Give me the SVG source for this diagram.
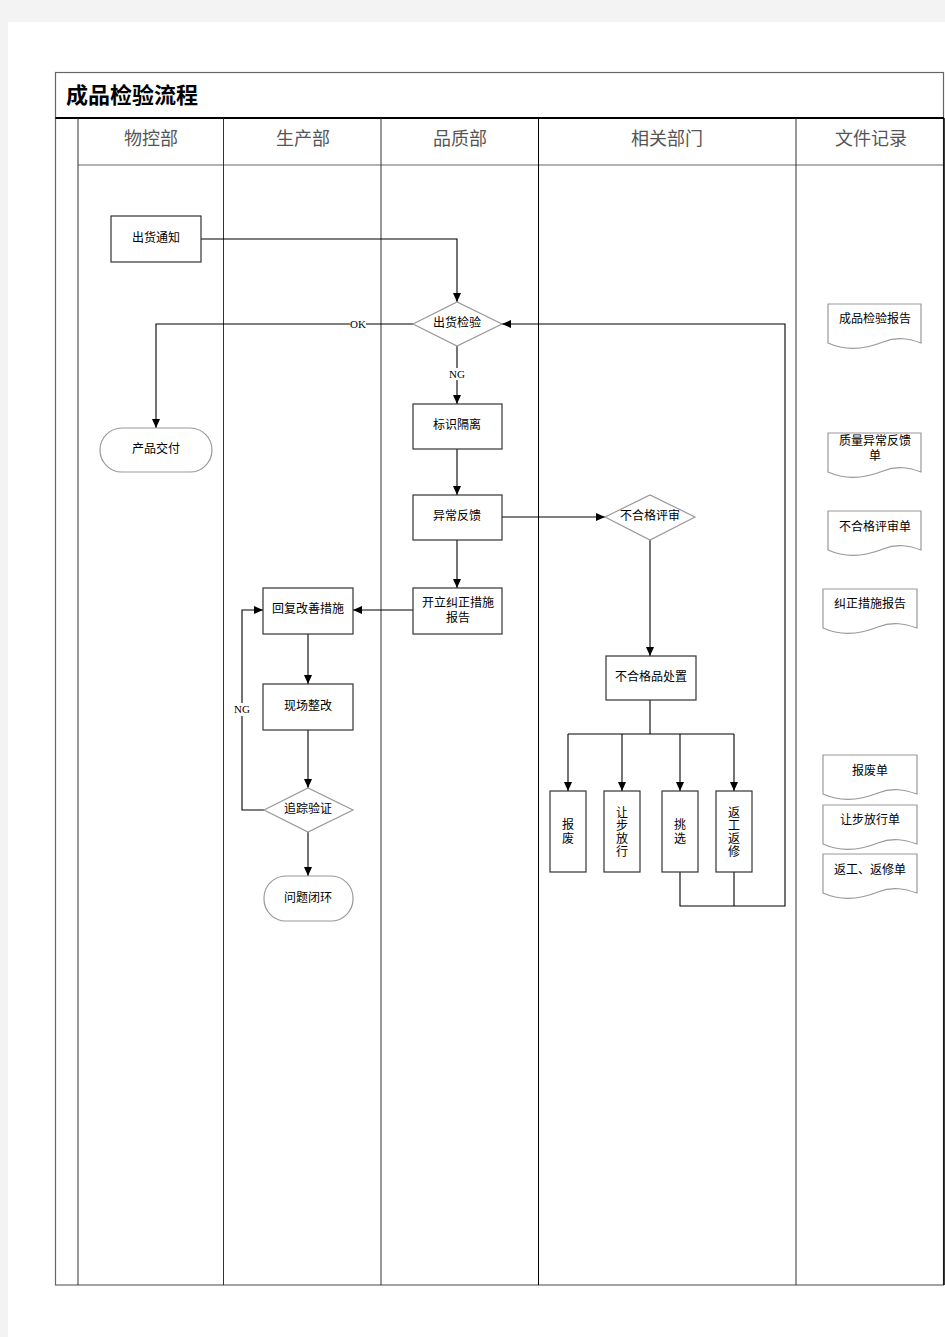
<svg xmlns="http://www.w3.org/2000/svg" width="945" height="1337" viewBox="0 0 945 1337">
<defs>
<marker id="arr" markerWidth="10" markerHeight="10" refX="9" refY="5" orient="auto" markerUnits="userSpaceOnUse">
<path d="M0,1 L9,5 L0,9 Z" fill="#000"/>
</marker>
<style>
.frame{fill:none;stroke:#000;stroke-width:1}
.box{fill:#fff;stroke:#333;stroke-width:1.2}
.dia{fill:#fff;stroke:#999;stroke-width:1.2}
.term{fill:#fff;stroke:#999;stroke-width:1.2}
.doc{fill:#fff;stroke:#999;stroke-width:1.2}
.lbl{font-family:"Liberation Sans","Noto Sans CJK SC",sans-serif;font-size:12px;fill:#000;text-anchor:middle;dominant-baseline:central}
.hdr{font-family:"Liberation Serif","Noto Sans CJK SC",serif;font-size:18px;fill:#555;text-anchor:middle;dominant-baseline:central}
.edge{fill:none;stroke:#000;stroke-width:1.1}
.el{font-family:"Liberation Serif",serif;font-size:11px;fill:#000;text-anchor:middle;dominant-baseline:central}
</style>
</defs>
<rect x="0" y="0" width="945" height="1337" fill="#f3f3f3"/>
<rect x="8" y="22" width="937" height="1315" fill="#fff"/>

<g id="frame">
<rect x="55.5" y="72.5" width="888" height="1212.5" fill="none" stroke="#666" stroke-width="1.2"/>
<line x1="55.5" y1="118" x2="944" y2="118" stroke="#000" stroke-width="2"/>
<line x1="78" y1="165" x2="944" y2="165" stroke="#666" stroke-width="1.2"/>
<line x1="78" y1="118" x2="78" y2="1285" stroke="#333" stroke-width="1"/>
<line x1="223.5" y1="118" x2="223.5" y2="1285" stroke="#333" stroke-width="1"/>
<line x1="381" y1="118" x2="381" y2="1285" stroke="#333" stroke-width="1"/>
<line x1="538.5" y1="118" x2="538.5" y2="1285" stroke="#000" stroke-width="1"/>
<line x1="796" y1="118" x2="796" y2="1285" stroke="#333" stroke-width="1"/>
<line x1="944" y1="118" x2="944" y2="1285" stroke="#000" stroke-width="1.5"/>
<text x="66" y="95" font-family="Liberation Serif,'Noto Sans CJK SC',serif" font-size="22" font-weight="bold" fill="#000" dominant-baseline="central">成品检验流程</text>
<text class="hdr" x="151" y="139">物控部</text>
<text class="hdr" x="303" y="139">生产部</text>
<text class="hdr" x="460" y="139">品质部</text>
<text class="hdr" x="667" y="139">相关部门</text>
<text class="hdr" x="871" y="139">文件记录</text>
</g>

<g id="connectors">
<path class="edge" d="M201,239 H457 V302" marker-end="url(#arr)"/>
<path class="edge" d="M413,324 H156 V428" marker-end="url(#arr)"/>
<path class="edge" d="M457,346 V404" marker-end="url(#arr)"/>
<path class="edge" d="M457,449 V495" marker-end="url(#arr)"/>
<path class="edge" d="M457,540 V588" marker-end="url(#arr)"/>
<path class="edge" d="M502,517 H605" marker-end="url(#arr)"/>
<path class="edge" d="M413,610 H353" marker-end="url(#arr)"/>
<path class="edge" d="M308,634 V684" marker-end="url(#arr)"/>
<path class="edge" d="M308,730 V788" marker-end="url(#arr)"/>
<path class="edge" d="M308,832 V876" marker-end="url(#arr)"/>
<path class="edge" d="M264,810 H242 V610 H263" marker-end="url(#arr)"/>
<path class="edge" d="M650,540 V656" marker-end="url(#arr)"/>
<path class="edge" d="M650,700 V734"/>
<path class="edge" d="M568,734 H734"/>
<path class="edge" d="M568,734 V791" marker-end="url(#arr)"/>
<path class="edge" d="M622,734 V791" marker-end="url(#arr)"/>
<path class="edge" d="M680,734 V791" marker-end="url(#arr)"/>
<path class="edge" d="M734,734 V791" marker-end="url(#arr)"/>
<path class="edge" d="M680,872 V906 H785 V324 H502" marker-end="url(#arr)"/>
<path class="edge" d="M734,872 V906"/>
<rect x="350" y="318" width="16" height="12" fill="#fff"/>
<text class="el" x="358" y="324">OK</text>
<rect x="449" y="368" width="16" height="12" fill="#fff"/>
<text class="el" x="457" y="374">NG</text>
<rect x="234" y="703" width="16" height="13" fill="#fff"/>
<text class="el" x="242" y="709">NG</text>
</g>

<g id="n-chuhuotongzhi"><rect class="box" x="111" y="216" width="90" height="46"/><text class="lbl" x="156" y="238">出货通知</text></g>
<g id="n-chuhuojianyan"><polygon class="dia" points="413,324 457,302 502,324 457,346"/><text class="lbl" x="457" y="323">出货检验</text></g>
<g id="n-chanpinjiaofu"><rect class="term" x="100" y="428" width="112" height="44" rx="22"/><text class="lbl" x="156" y="449">产品交付</text></g>
<g id="n-biaoshigeli"><rect class="box" x="413" y="404" width="89" height="45"/><text class="lbl" x="457" y="425">标识隔离</text></g>
<g id="n-yichangfankui"><rect class="box" x="413" y="495" width="89" height="45"/><text class="lbl" x="457" y="516">异常反馈</text></g>
<g id="n-kaili"><rect class="box" x="413" y="588" width="89" height="46"/><text class="lbl" x="458" y="603">开立纠正措施</text><text class="lbl" x="458" y="618">报告</text></g>
<g id="n-huifu"><rect class="box" x="263" y="588" width="90" height="46"/><text class="lbl" x="308" y="609">回复改善措施</text></g>
<g id="n-xianchang"><rect class="box" x="263" y="684" width="90" height="46"/><text class="lbl" x="308" y="706">现场整改</text></g>
<g id="n-zhuizong"><polygon class="dia" points="264,810 308,788 353,810 308,832"/><text class="lbl" x="308" y="809">追踪验证</text></g>
<g id="n-wenti"><rect class="term" x="264" y="876" width="89" height="45" rx="22"/><text class="lbl" x="308" y="898">问题闭环</text></g>
<g id="n-pingshen"><polygon class="dia" points="605,517 650,495 695,517 650,540"/><text class="lbl" x="650" y="516">不合格评审</text></g>
<g id="n-chuzhi"><rect class="box" x="606" y="656" width="90" height="44"/><text class="lbl" x="651" y="677">不合格品处置</text></g>
<g id="n-baofei"><rect class="box" x="550" y="791" width="36" height="81"/><text class="lbl" x="568"><tspan x="568" y="825">报</tspan><tspan x="568" y="839">废</tspan></text></g>
<g id="n-rangbu"><rect class="box" x="604" y="791" width="36" height="81"/><text class="lbl"><tspan x="622" y="813">让</tspan><tspan x="622" y="826">步</tspan><tspan x="622" y="839">放</tspan><tspan x="622" y="852">行</tspan></text></g>
<g id="n-tiaoxuan"><rect class="box" x="662" y="791" width="36" height="81"/><text class="lbl"><tspan x="680" y="825">挑</tspan><tspan x="680" y="839">选</tspan></text></g>
<g id="n-fangong"><rect class="box" x="716" y="791" width="36" height="81"/><text class="lbl"><tspan x="734" y="813">返</tspan><tspan x="734" y="826">工</tspan><tspan x="734" y="839">返</tspan><tspan x="734" y="852">修</tspan></text></g>

<g id="d-chengpin"><path class="doc" transform="translate(828,304)" d="M0,0 H93 V39 C82,35 70,32 55,38 C40,44 20,48 0,39 Z"/><text class="lbl" x="875" y="319">成品检验报告</text></g>
<g id="d-zhiliang"><path class="doc" transform="translate(828,433)" d="M0,0 H93 V39 C82,35 70,32 55,38 C40,44 20,48 0,39 Z"/><text class="lbl" x="875" y="441">质量异常反馈</text><text class="lbl" x="875" y="456">单</text></g>
<g id="d-buhege"><path class="doc" transform="translate(828,511)" d="M0,0 H93 V39 C82,35 70,32 55,38 C40,44 20,48 0,39 Z"/><text class="lbl" x="875" y="527">不合格评审单</text></g>
<g id="d-jiuzheng"><path class="doc" transform="translate(823,589)" d="M0,0 H94 V39 C82,35 70,32 55,38 C40,44 20,48 0,39 Z"/><text class="lbl" x="870" y="604">纠正措施报告</text></g>
<g id="d-baofeidan"><path class="doc" transform="translate(823,755)" d="M0,0 H94 V39 C82,35 70,32 55,38 C40,44 20,48 0,39 Z"/><text class="lbl" x="870" y="771">报废单</text></g>
<g id="d-rangbudan"><path class="doc" transform="translate(823,805)" d="M0,0 H94 V39 C82,35 70,32 55,38 C40,44 20,48 0,39 Z"/><text class="lbl" x="870" y="820">让步放行单</text></g>
<g id="d-fangongdan"><path class="doc" transform="translate(823,854)" d="M0,0 H94 V39 C82,35 70,32 55,38 C40,44 20,48 0,39 Z"/><text class="lbl" x="870" y="870">返工、返修单</text></g>
</svg>
